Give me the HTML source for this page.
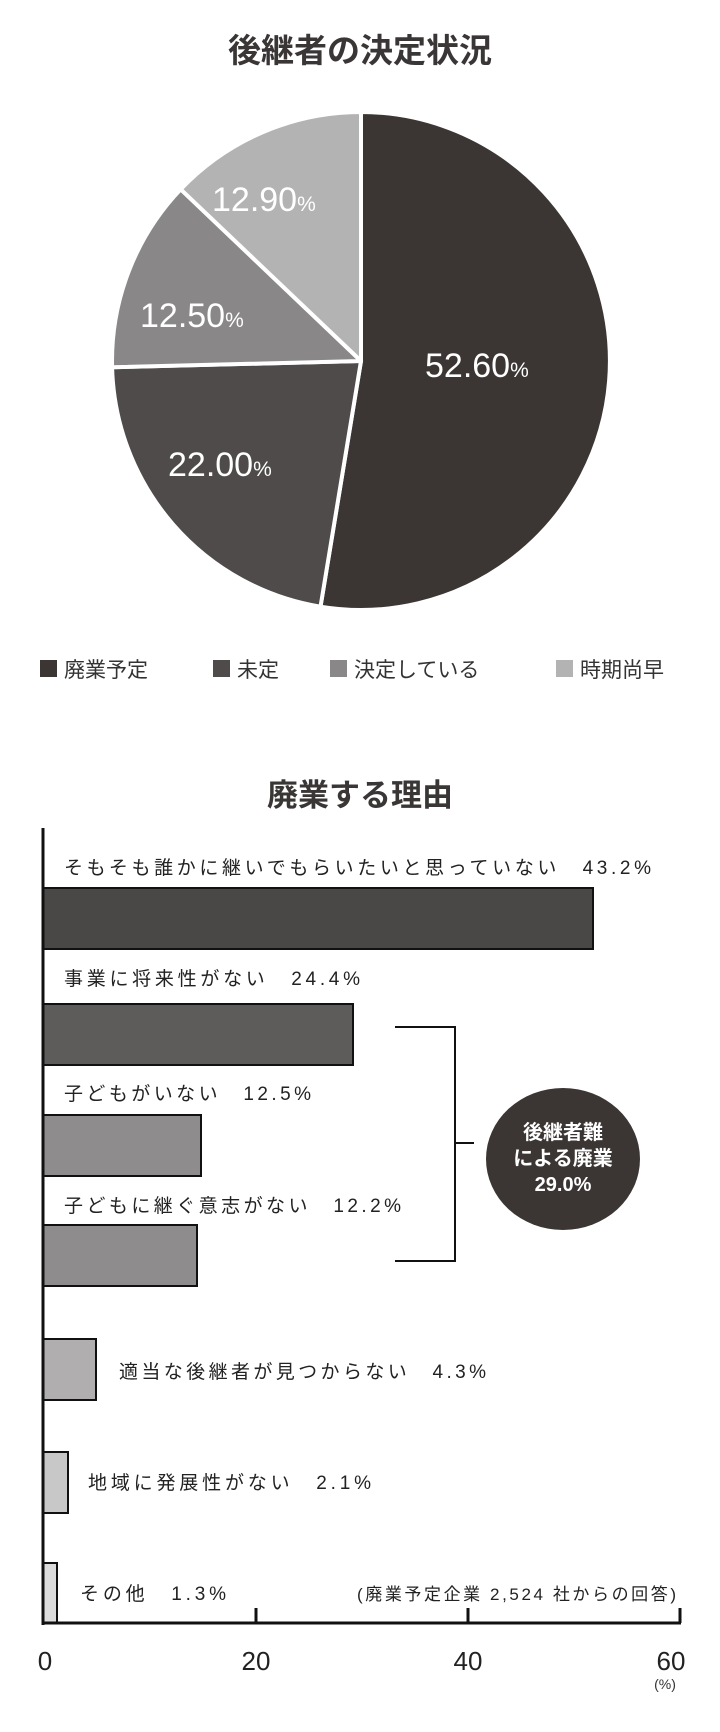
<!DOCTYPE html>
<html><head><meta charset="utf-8"><style>
html,body{margin:0;padding:0;background:#fff;}
svg{display:block;}
text{font-family:"Liberation Sans","Noto Sans CJK JP",sans-serif;}
</style></head><body>
<svg width="720" height="1732" viewBox="0 0 720 1732" xmlns="http://www.w3.org/2000/svg">
<rect width="720" height="1732" fill="#fff"/>
<text x="360" y="62" text-anchor="middle" font-size="33" font-weight="bold" fill="#3a3636">後継者の決定状況</text>
<g stroke="#fff" stroke-width="4" stroke-linejoin="round">
<path d="M361,361 L361,112 A249,249 0 1 1 320.5,606.7 Z" fill="#3b3634"/>
<path d="M361,361 L320.5,606.7 A249,249 0 0 1 112.1,367.3 Z" fill="#4f4b4b"/>
<path d="M361,361 L112.1,367.3 A249,249 0 0 1 180.7,189.3 Z" fill="#898787"/>
<path d="M361,361 L180.7,189.3 A249,249 0 0 1 361,112 Z" fill="#b4b3b3"/>
</g>
<g fill="#fff" font-size="34">
<text x="425" y="377">52.60<tspan font-size="21">%</tspan></text>
<text x="212" y="211">12.90<tspan font-size="21">%</tspan></text>
<text x="140" y="327">12.50<tspan font-size="21">%</tspan></text>
<text x="168" y="476">22.00<tspan font-size="21">%</tspan></text>
</g>
<g font-size="21" fill="#333">
<rect x="40" y="660" width="17" height="17" fill="#3b3634"/><text x="64" y="677">廃業予定</text>
<rect x="213" y="660" width="17" height="17" fill="#4f4b4b"/><text x="237" y="677">未定</text>
<rect x="330" y="660" width="17" height="17" fill="#898787"/><text x="354" y="677">決定している</text>
<rect x="556" y="660" width="17" height="17" fill="#b4b3b3"/><text x="580" y="677">時期尚早</text>
</g>
<text x="360" y="806" text-anchor="middle" font-size="31" font-weight="bold" fill="#3a3636">廃業する理由</text>
<g stroke="#111" stroke-width="2">
<rect x="43" y="888" width="550" height="61" fill="#4a4747"/>
<rect x="43" y="1004" width="310" height="61" fill="#5e5b5b"/>
<rect x="43" y="1115" width="158" height="61" fill="#8e8c8c"/>
<rect x="43" y="1225" width="154" height="61" fill="#8e8c8c"/>
<rect x="43" y="1339" width="53" height="61" fill="#b0aeae"/>
<rect x="43" y="1452" width="25" height="61" fill="#c9c8c8"/>
<rect x="43" y="1563" width="14" height="60" fill="#dcdcdc"/>
</g>
<g stroke="#111" stroke-width="3" fill="none">
<line x1="43" y1="828" x2="43" y2="1625"/>
<line x1="42" y1="1623" x2="681" y2="1623"/>
<line x1="256" y1="1608" x2="256" y2="1623"/>
<line x1="468" y1="1608" x2="468" y2="1623"/>
<line x1="680" y1="1608" x2="680" y2="1623"/>
<polyline points="395,1027 455,1027 455,1261 395,1261" stroke-width="2"/>
<line x1="455" y1="1143" x2="474" y2="1143" stroke-width="2"/>
</g>
<g font-size="26" fill="#222" text-anchor="middle">
<text x="45" y="1670">0</text><text x="256" y="1670">20</text><text x="468" y="1670">40</text><text x="671" y="1670">60</text>
</g>
<text x="665" y="1689" font-size="14" fill="#333" text-anchor="middle">(%)</text>
<g font-size="19" fill="#222">
<text x="64" y="874" textLength="587" lengthAdjust="spacing">そもそも誰かに継いでもらいたいと思っていない　43.2%</text>
<text x="64" y="985" textLength="296" lengthAdjust="spacing">事業に将来性がない　24.4%</text>
<text x="64" y="1100" textLength="247" lengthAdjust="spacing">子どもがいない　12.5%</text>
<text x="64" y="1212" textLength="337" lengthAdjust="spacing">子どもに継ぐ意志がない　12.2%</text>
<text x="119" y="1378" textLength="367" lengthAdjust="spacing">適当な後継者が見つからない　4.3%</text>
<text x="88" y="1489" textLength="283" lengthAdjust="spacing">地域に発展性がない　2.1%</text>
<text x="80" y="1600" textLength="146" lengthAdjust="spacing">その他　1.3%</text>
<text x="357" y="1600" font-size="17" textLength="319" lengthAdjust="spacing">(廃業予定企業 2,524 社からの回答)</text>
</g>
<ellipse cx="563" cy="1159" rx="77" ry="71" fill="#3b3634"/>
<g fill="#fff" font-size="20" font-weight="bold" text-anchor="middle">
<text x="563" y="1139">後継者難</text>
<text x="563" y="1165">による廃業</text>
<text x="563" y="1191">29.0%</text>
</g>
</svg>
</body></html>
